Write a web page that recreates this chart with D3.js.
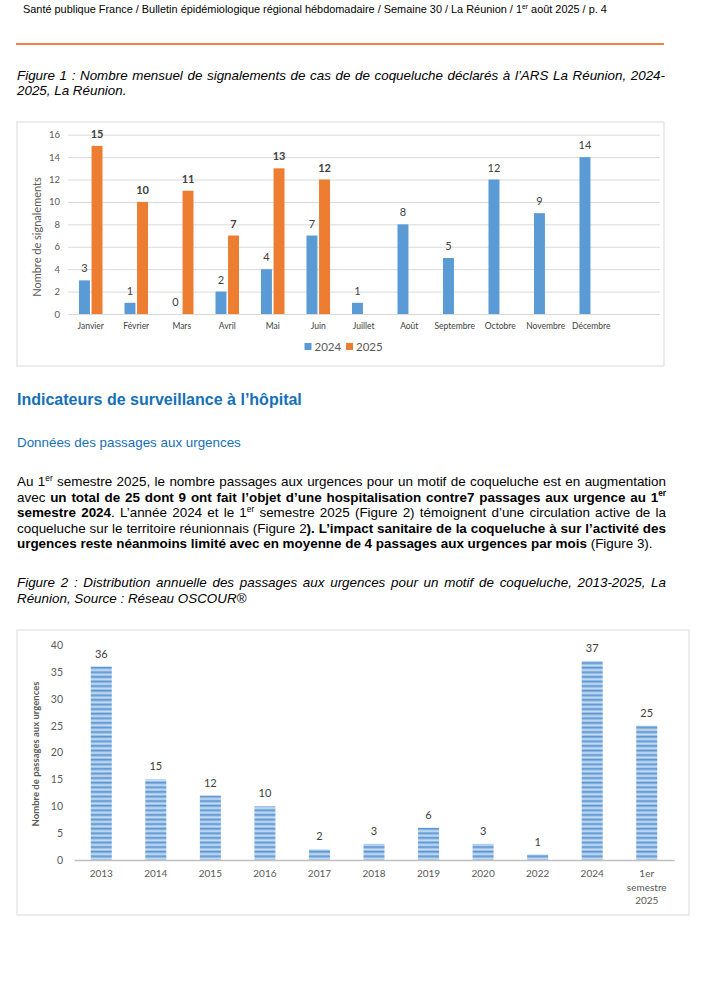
<!DOCTYPE html>
<html>
<head>
<meta charset="utf-8">
<script src="https://cdn.jsdelivr.net/npm/d3@7"></script>
<style>
  body { margin: 0; background: #fff; }
  svg { display: block; }
</style>
</head>
<body>
<script>
// Figure 1 data
var months = ['Janvier', 'Février', 'Mars', 'Avril', 'Mai', 'Juin', 'Juillet', 'Août', 'Septembre', 'Octobre', 'Novembre', 'Décembre'];
var series = ['2024', '2025'];
var signal2024 = [3, 1, 0, 2, 4, 7, 1, 8, 5, 12, 9, 14];
var signal2025 = [15, 10, 11, 7, 13, 12];
var yTicks1 = [0, 2, 4, 6, 8, 10, 12, 14, 16];

// Figure 2 data
var years = ['2013', '2014', '2015', '2016', '2017', '2018', '2019', '2020', '2022', '2024', '1er\nsemestre\n2025'];
var passages = [36, 15, 12, 10, 2, 3, 6, 3, 1, 37, 25];
var yTicks2 = [0, 5, 10, 15, 20, 25, 30, 35, 40];

var textFont = "'Liberation Sans', Arial, sans-serif";
var chartFont = "Lato, 'Open Sans', sans-serif";
var blue = '#5b9bd5', orange = '#ed7d31';

var svg = d3.select('body')
			.append('svg')
			.attr('width', 726)
			.attr('height', 1000);

// segments: [text, kind] kind = n | b | s (superscript) | sb (bold superscript)
function line(x, y, segs, size, opts){
	opts = opts || {};
	var t = svg.append('text')
		.attr('x', x).attr('y', y)
		.attr('font-family', textFont)
		.attr('font-size', size)
		.attr('font-style', opts.italic ? 'italic' : 'normal')
		.attr('font-weight', opts.bold ? 'bold' : 'normal')
		.attr('fill', opts.color || '#000');
	var shifted = false;
	segs.forEach(function(s){
		var ts = t.append('tspan').text(s[0]);
		if (s[1] == 'b' || s[1] == 'sb') ts.attr('font-weight', 'bold');
		if (s[1] == 's' || s[1] == 'sb') {
			ts.attr('font-size', size * 0.62).attr('dy', -size * 0.38);
			shifted = true;
		} else if (shifted) {
			ts.attr('dy', size * 0.38);
			shifted = false;
		}
	});
	if (opts.justify) {
		var w = t.node().getComputedTextLength();
		var spaces = (t.text().match(/ /g) || []).length;
		if (w < opts.justify) t.style('word-spacing', ((opts.justify - w) / spaces) + 'px');
		else t.attr('textLength', opts.justify).attr('lengthAdjust', 'spacingAndGlyphs');
	}
	return t;
}

// font size that makes a line span a given width
function sizeFor(segs, target, opts){
	var t = line(0, -50, segs, 20, opts);
	var w = t.node().getComputedTextLength();
	t.remove();
	return 20 * target / w;
}

// header
var headSegs = [['Santé publique France / Bulletin épidémiologique régional hébdomadaire / Semaine 30 / La Réunion / 1', 'n'], ['er', 's'], [' août 2025 / p. 4', 'n']];
line(23, 13, headSegs, sizeFor(headSegs, 585));
svg.append('line')
	.attr('x1', 16).attr('x2', 664)
	.attr('y1', 44).attr('y2', 44)
	.attr('stroke', '#ee8150')
	.attr('stroke-width', 2);

// caption sizes from the short last lines
var capSize = (sizeFor([['Réunion, Source : Réseau OSCOUR®', 'n']], 231, {italic: true}) +
	sizeFor([['2025, La Réunion.', 'n']], 109, {italic: true})) / 2;

line(17, 79.5, [['Figure 1 : Nombre mensuel de signalements de cas de de coqueluche déclarés à l’ARS La Réunion, 2024-', 'n']], capSize, {italic: true, justify: 648});
line(17, 95, [['2025, La Réunion.', 'n']], capSize, {italic: true});

// ---------- Figure 1 ----------
svg.append('rect')
	.attr('x', 17).attr('y', 122)
	.attr('width', 647).attr('height', 244)
	.attr('fill', 'none')
	.attr('stroke', '#d9d9d9');

var x1 = d3.scaleBand()
	.domain(months)
	.range([68, 614]);
var xs1 = d3.scaleBand()
	.domain(series)
	.range([11, 34.5])
	.paddingInner(0.128);
var y1 = d3.scaleLinear()
	.domain([0, 16])
	.range([314, 134.7]);

var gy1 = svg.append('g')
	.attr('transform', 'translate(68,0)')
	.call(d3.axisLeft(y1).tickValues(yTicks1).tickSize(-592).tickPadding(8));
gy1.select('.domain').remove();
gy1.selectAll('line').attr('stroke', '#d9d9d9');
gy1.selectAll('text')
	.attr('font-family', chartFont)
	.attr('font-size', 9.5)
	.attr('fill', '#595959');

var gx1 = svg.append('g')
	.attr('transform', 'translate(0,314)')
	.call(d3.axisBottom(x1).tickSize(0).tickPadding(9));
gx1.select('.domain').remove();
gx1.selectAll('text')
	.attr('font-family', chartFont)
	.attr('font-size', 8.5)
	.attr('fill', '#404040');

svg.append('text')
	.attr('transform', 'translate(41,237) rotate(-90)')
	.attr('text-anchor', 'middle')
	.attr('font-family', chartFont)
	.attr('font-size', 11)
	.attr('fill', '#595959')
	.text('Nombre de signalements');

var rows1 = [];
months.forEach(function(m, i){
	rows1.push({m: m, s: '2024', v: signal2024[i]});
	if (i < signal2025.length) rows1.push({m: m, s: '2025', v: signal2025[i]});
});

svg.selectAll('rect.bar1')
	.data(rows1)
	.enter()
	.append('rect')
	.attr('class', 'bar1')
	.attr('x', function(d){ return x1(d.m) + xs1(d.s); })
	.attr('y', function(d){ return y1(d.v); })
	.attr('width', xs1.bandwidth())
	.attr('height', function(d){ return y1(0) - y1(d.v); })
	.attr('fill', function(d){ return d.s == '2024' ? blue : orange; });

svg.selectAll('text.lab1')
	.data(rows1)
	.enter()
	.append('text')
	.attr('class', 'lab1')
	.attr('x', function(d){ return x1(d.m) + xs1(d.s) + xs1.bandwidth() / 2; })
	.attr('y', function(d){ return y1(d.v) - 8; })
	.attr('text-anchor', 'middle')
	.attr('font-family', chartFont)
	.attr('font-size', 11)
	.attr('font-weight', function(d){ return d.s == '2025' ? 'bold' : 'normal'; })
	.attr('fill', '#404040')
	.text(function(d){ return d.v; });

// legend
var leg = svg.selectAll('g.leg')
	.data(series)
	.enter()
	.append('g')
	.attr('class', 'leg')
	.attr('transform', function(d, i){ return 'translate(' + (304.5 + i * 41.5) + ',343)'; });
leg.append('rect')
	.attr('width', 7).attr('height', 7)
	.attr('fill', function(d, i){ return i == 0 ? blue : orange; });
leg.append('text')
	.attr('x', 10).attr('y', 7.5)
	.attr('font-family', chartFont)
	.attr('font-size', 11.5)
	.attr('fill', '#595959')
	.text(function(d){ return d; });

// ---------- text section ----------
var h1 = [['Indicateurs de surveillance à l’hôpital', 'n']];
line(17, 405, h1, sizeFor(h1, 285, {bold: true}), {bold: true, color: '#1570b8'});
var h2 = [['Données des passages aux urgences', 'n']];
line(17, 446.5, h2, sizeFor(h2, 224), {color: '#1570b8'});

var para = [
	[['Au 1', 'n'], ['er', 's'], [' semestre 2025, le nombre passages aux urgences pour un motif de coqueluche est en augmentation', 'n']],
	[['avec ', 'n'], ['un total de 25 dont 9 ont fait l’objet d’une hospitalisation contre7 passages aux urgence au 1', 'b'], ['er', 'sb']],
	[['semestre 2024', 'b'], ['. L’année 2024 et le 1', 'n'], ['er', 's'], [' semestre 2025 (Figure 2) témoignent d’une circulation active de la', 'n']],
	[['coqueluche sur le territoire réunionnais (Figure 2', 'n'], ['). L’impact sanitaire de la coqueluche à sur l’activité des', 'b']],
	[['urgences reste néanmoins limité avec en moyenne de 4 passages aux urgences par mois', 'b'], [' (Figure 3).', 'n']]
];
var paraSize = sizeFor(para[4], 636);
para.forEach(function(segs, i){
	line(17, 486 + i * 15.5, segs, paraSize, i < 4 ? {justify: 649} : {});
});

line(17, 587, [['Figure 2 : Distribution annuelle des passages aux urgences pour un motif de coqueluche, 2013-2025, La', 'n']], capSize, {italic: true, justify: 649});
line(17, 603, [['Réunion, Source : Réseau OSCOUR®', 'n']], capSize, {italic: true});

// ---------- Figure 2 ----------
svg.append('rect')
	.attr('x', 17).attr('y', 630)
	.attr('width', 672).attr('height', 285)
	.attr('fill', 'none')
	.attr('stroke', '#d9d9d9');

var pat = svg.append('defs').append('pattern')
	.attr('id', 'stripes')
	.attr('patternUnits', 'userSpaceOnUse')
	.attr('width', 10).attr('height', 4.6);
pat.append('rect').attr('width', 10).attr('height', 4.6).attr('fill', '#9cc0e6');
pat.append('rect').attr('y', 0).attr('width', 10).attr('height', 1.4).attr('fill', '#5a96d3');
pat.append('rect').attr('y', 2.5).attr('width', 10).attr('height', 1).attr('fill', '#d3e4f5');

var x2 = d3.scaleBand()
	.domain(years)
	.range([74, 674])
	.paddingInner(0.615)
	.paddingOuter(0.3075);
var y2 = d3.scaleLinear()
	.domain([0, 40])
	.range([860, 645]);

var gy2 = svg.append('g')
	.attr('transform', 'translate(74,0)')
	.call(d3.axisLeft(y2).tickValues(yTicks2).tickSize(0).tickPadding(11));
gy2.select('.domain').remove();
gy2.selectAll('text')
	.attr('font-family', chartFont)
	.attr('font-size', 10.5)
	.attr('fill', '#595959');

svg.selectAll('rect.bar2')
	.data(passages)
	.enter()
	.append('rect')
	.attr('class', 'bar2')
	.attr('x', function(d, i){ return x2(years[i]); })
	.attr('y', function(d){ return y2(d); })
	.attr('width', x2.bandwidth())
	.attr('height', function(d){ return y2(0) - y2(d); })
	.attr('fill', 'url(#stripes)');

svg.selectAll('text.lab2')
	.data(passages)
	.enter()
	.append('text')
	.attr('class', 'lab2')
	.attr('x', function(d, i){ return x2(years[i]) + x2.bandwidth() / 2; })
	.attr('y', function(d){ return y2(d) - 9; })
	.attr('text-anchor', 'middle')
	.attr('font-family', chartFont)
	.attr('font-size', 11)
	.attr('fill', '#404040')
	.text(function(d){ return d; });

var gx2 = svg.append('g')
	.attr('transform', 'translate(0,860)')
	.call(d3.axisBottom(x2).tickSize(0).tickPadding(10));
gx2.select('.domain')
	.attr('stroke', '#bfbfbf')
	.attr('stroke-width', 1.6);
gx2.selectAll('text')
	.attr('font-family', chartFont)
	.attr('font-size', 10)
	.attr('fill', '#595959')
	.each(function(d){
		var parts = d.split('\n');
		if (parts.length > 1) {
			var t = d3.select(this).text(null);
			parts.forEach(function(p, k){
				t.append('tspan')
					.attr('x', 0)
					.attr('dy', k == 0 ? '0.71em' : '1.35em')
					.text(p);
			});
		}
	});

svg.append('text')
	.attr('transform', 'translate(39,754) rotate(-90)')
	.attr('text-anchor', 'middle')
	.attr('font-family', chartFont)
	.attr('font-size', 9.5)
	.attr('font-weight', 'bold')
	.attr('fill', '#595959')
	.text('Nombre de passages aux urgences');
</script>
</body>
</html>
